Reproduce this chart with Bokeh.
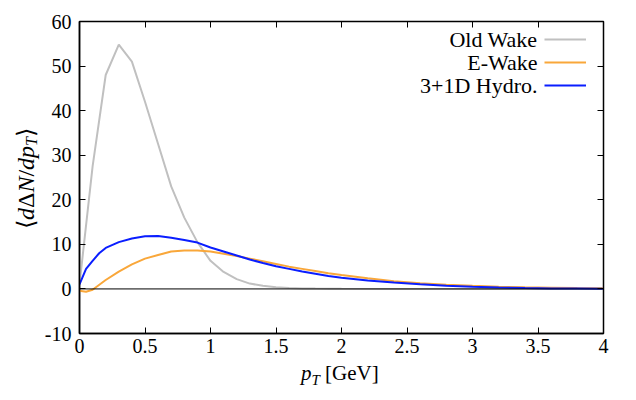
from bokeh.plotting import figure
from bokeh.models import (Range1d, LinearAxis, SingleIntervalTicker, Span, Label,
                          Legend, LegendItem, CustomLabelingPolicy, Div)
from bokeh.layouts import row, column
from bokeh.embed import file_html
from bokeh.resources import INLINE

# ---- data ----
old_x = [0.0, 0.1, 0.2, 0.3, 0.4, 0.5, 0.6, 0.7, 0.8, 0.9, 1.0, 1.1, 1.2, 1.3, 1.4,
         1.5, 1.6, 1.7, 1.8, 1.9, 2.0, 2.5, 3.0, 3.5, 4.0]
old_y = [1.0, 27.5, 48.0, 54.8, 51.0, 42.0, 32.5, 23.0, 16.0, 10.5, 6.3, 3.8, 2.2, 1.2, 0.7,
         0.4, 0.22, 0.12, 0.07, 0.04, 0.02, 0.0, 0.0, 0.0, 0.0]

ew_x = [0.0, 0.05, 0.1, 0.2, 0.3, 0.4, 0.5, 0.6, 0.7, 0.8, 0.9, 1.0, 1.1, 1.2, 1.3, 1.4,
        1.5, 1.6, 1.7, 1.8, 1.9, 2.0, 2.2, 2.4, 2.6, 2.8, 3.0, 3.2, 3.4, 3.6, 3.8, 4.0]
ew_y = [-0.4, -0.65, -0.2, 2.0, 3.9, 5.5, 6.8, 7.6, 8.4, 8.6, 8.6, 8.4, 7.9, 7.4, 6.8, 6.2,
        5.6, 5.0, 4.5, 4.0, 3.5, 3.1, 2.4, 1.75, 1.3, 0.95, 0.7, 0.5, 0.38, 0.28, 0.2, 0.15]

hy_x = [0.0, 0.05, 0.1, 0.15, 0.2, 0.3, 0.4, 0.5, 0.6, 0.7, 0.8, 0.9, 1.0, 1.1, 1.2, 1.3,
        1.4, 1.5, 1.6, 1.7, 1.8, 1.9, 2.0, 2.2, 2.4, 2.6, 2.8, 3.0, 3.2, 3.4, 3.6, 3.8, 4.0]
hy_y = [1.0, 4.5, 6.3, 8.0, 9.2, 10.5, 11.3, 11.8, 11.9, 11.5, 11.0, 10.4, 9.3, 8.4, 7.5, 6.6,
        5.8, 5.1, 4.5, 3.9, 3.4, 2.9, 2.5, 1.9, 1.45, 1.05, 0.72, 0.48, 0.32, 0.2, 0.12, 0.08, 0.05]

series_names = ["Old Wake", "E-Wake", "3+1D Hydro."]
series_colors = ["#c0c0c0", "#f9a73a", "#0a1eff"]

x_ticks = [0, 0.5, 1, 1.5, 2, 2.5, 3, 3.5, 4]
x_tick_labels = ["0", "0.5", "1", "1.5", "2", "2.5", "3", "3.5", "4"]
y_ticks = [-10, 0, 10, 20, 30, 40, 50, 60]
y_tick_labels = ["-10", "0", "10", "20", "30", "40", "50", "60"]

FONT = "Liberation Serif"
YDIV_W = 40
FIG_W = 620 - YDIV_W
FIG_H = 360
XDIV_H = 24

p = figure(width=FIG_W, height=FIG_H, output_backend="svg", toolbar_location=None,
           x_range=Range1d(0, 4), y_range=Range1d(-10, 60),
           min_border_left=79 - YDIV_W, min_border_right=620 - 603,
           min_border_top=21, min_border_bottom=FIG_H - 333, margin=0)
p.background_fill_color = "white"
p.border_fill_color = None
p.outline_line_color = "black"
p.outline_line_width = 1.5
p.grid.visible = False

p.xaxis.ticker = SingleIntervalTicker(interval=0.5, num_minor_ticks=0)
p.yaxis.ticker = SingleIntervalTicker(interval=10, num_minor_ticks=0)
p.xaxis.major_label_overrides = {t: l for t, l in zip(x_ticks, x_tick_labels)}
p.yaxis.major_label_overrides = {t: l for t, l in zip(y_ticks, y_tick_labels)}

for ax in [p.xaxis[0], p.yaxis[0]]:
    ax.major_tick_in = 6
    ax.major_tick_out = 0
    ax.minor_tick_in = 0
    ax.minor_tick_out = 0
    ax.major_tick_line_color = "black"
    ax.axis_line_color = "black"
    ax.axis_line_width = 1.5
    ax.major_label_text_font = FONT
    ax.major_label_text_font_size = "20px"
    ax.major_label_text_color = "black"
p.xaxis.major_label_standoff = 5
p.yaxis.major_label_standoff = 8

hide_labels = CustomLabelingPolicy(code="return []")
top = LinearAxis(ticker=SingleIntervalTicker(interval=0.5, num_minor_ticks=0),
                 major_label_policy=hide_labels, major_label_text_font_size="0px",
                 major_tick_in=6, major_tick_out=0,
                 minor_tick_in=0, minor_tick_out=0, axis_line_color="black",
                 major_label_standoff=0)
right = LinearAxis(ticker=SingleIntervalTicker(interval=10, num_minor_ticks=0),
                   major_label_policy=hide_labels, major_label_text_font_size="0px",
                   major_tick_in=6, major_tick_out=0,
                   minor_tick_in=0, minor_tick_out=0, axis_line_color="black",
                   major_label_standoff=0)
p.add_layout(top, "above")
p.add_layout(right, "right")

p.add_layout(Span(location=0, dimension="width", line_color="black", line_width=1))

r_old = p.line(old_x, old_y, line_color=series_colors[0], line_width=2)
r_ew = p.line(ew_x, ew_y, line_color=series_colors[1], line_width=2)
r_hy = p.line(hy_x, hy_y, line_color=series_colors[2], line_width=2)

legend = Legend(items=[LegendItem(label="", renderers=[r]) for r in [r_old, r_ew, r_hy]],
                location="top_right", margin=0, padding=8, label_standoff=9, label_width=0,
                glyph_width=42, glyph_height=20, spacing=3,
                background_fill_alpha=0, border_line_alpha=0)
p.add_layout(legend)

row_y = [294, 271, 248]
for name, yy in zip(series_names, row_y):
    p.add_layout(Label(x=458, y=yy, x_units="screen", y_units="screen", text=name,
                       text_align="right", text_baseline="middle",
                       text_font=FONT, text_font_size="22px", text_color="black"))

# axis titles as HTML text
xdiv = Div(width=FIG_W, height=XDIV_H, margin=0, styles={"overflow": "visible"},
           text=("<div style=\"font-family:'Liberation Serif';font-size:21px;line-height:21px;"
                 "padding-left:" + str(301 - YDIV_W) + "px;padding-top:3px;white-space:nowrap;color:black\">"
                 "<i>p</i><sub style=\"font-size:15px\"><i>T</i></sub> [GeV]</div>"))
ydiv = Div(width=YDIV_W, height=FIG_H + XDIV_H, margin=0, styles={"overflow": "visible"},
           text=("<div style=\"font-family:'Liberation Serif';font-size:24px;line-height:24px;"
                 "writing-mode:vertical-rl;transform:rotate(180deg);display:inline-block;"
                 "margin-top:128px;margin-left:14px;white-space:nowrap;color:black\">"
                 "⟨<i>d</i>Δ<i>N</i>/<i>dp</i><sub style=\"font-size:16px\"><i>T</i></sub>⟩</div>"))

layout = row(ydiv, column(p, xdiv, spacing=0, margin=0), spacing=0, margin=0)

open("out.html", "w").write(file_html(layout, INLINE))
